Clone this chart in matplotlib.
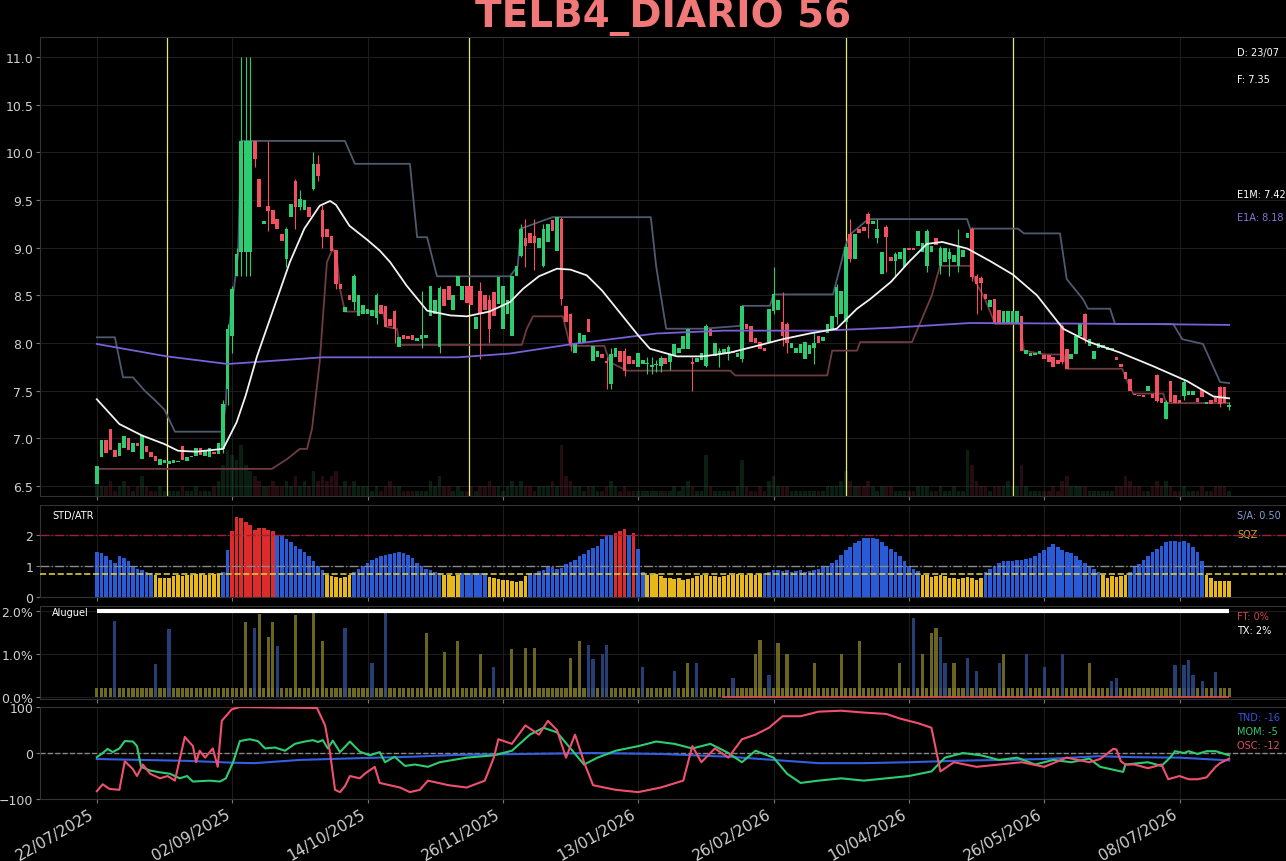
import numpy as np
import matplotlib
matplotlib.use('Agg')
import matplotlib.pyplot as plt
from matplotlib.ticker import FuncFormatter

# --- datas / eixo x (indice de pregao) ---
tick_idx = [0, 30, 60, 90, 120, 150, 180, 210, 240]
tick_datas = ['22/07/2025', '02/09/2025', '14/10/2025', '26/11/2025', '13/01/2026',
              '26/02/2026', '10/04/2026', '26/05/2026', '08/07/2026']

# --- candles ---
abertura = [
    6.52, 6.80, 6.98, 7.10, 6.88, 6.82, 6.90, 7.00, 6.86, 6.95,
    6.78, 6.92, 6.86, 6.82, 6.72, 6.74, 6.73, 6.74, 6.75, 6.92,
    6.76, 6.80, 6.82, 6.90, 6.82, 6.80, 6.86, 6.84, 6.89, 7.52,
    8.07, 8.70, 8.95, 8.95, 8.95, 10.12, 9.72, 9.25, 9.44, 9.40,
    9.30, 9.14, 8.88, 9.32, 9.70, 9.43, 9.40, 9.43, 9.62, 9.88,
    9.40, 9.20, 9.12, 8.98, 8.62, 8.33, 8.50, 8.43, 8.28, 8.30,
    8.30, 8.28, 8.26, 8.40, 8.39, 8.25, 8.34, 7.96, 8.08, 8.07,
    8.08, 8.02, 8.04, 8.05, 8.28, 8.30, 7.96, 8.57, 8.60, 8.35,
    8.60, 8.45, 8.60, 8.60, 8.15, 8.55, 8.50, 8.45, 8.53, 8.41,
    8.15, 8.30, 8.07, 8.70, 8.91, 9.10, 9.15, 9.12, 9.00, 8.81,
    9.06, 9.29, 8.97, 9.30, 8.39, 8.30, 7.90, 8.00, 8.00, 8.25,
    7.81, 7.85, 7.88, 7.81, 7.57, 7.85, 7.92, 7.92, 7.86, 7.82,
    7.75, 7.78, 7.78, 7.75, 7.77, 7.76, 7.84, 7.80, 7.86, 7.90,
    7.94, 7.94, 7.80, 7.80, 7.82, 7.76, 8.15, 7.86, 7.88, 7.88,
    7.88, 7.92, 7.85, 7.83, 8.20, 8.18, 8.05, 8.01, 7.95, 8.01,
    8.34, 8.35, 8.22, 8.20, 7.95, 7.90, 7.90, 7.83, 7.88, 7.95,
    8.07, 8.02, 8.10, 8.15, 8.27, 8.30, 8.22, 9.14, 8.88, 9.20,
    9.22, 9.35, 9.25, 9.10, 8.72, 9.22, 8.90, 8.86, 8.88, 8.80,
    9.00, 9.00, 9.02, 8.95, 8.81, 8.95, 9.10, 8.81, 8.85, 8.88,
    8.85, 8.81, 8.90, 9.10, 9.20, 8.70, 8.68, 8.51, 8.38, 8.46,
    8.35, 8.20, 8.20, 8.20, 8.20, 8.28, 7.88, 7.86, 7.87, 7.88,
    7.87, 7.87, 7.85, 7.82, 8.18, 7.94, 7.83, 7.88, 8.07, 8.30,
    7.97, 7.83, 7.95, 7.95, 7.93, 7.93, 7.85, 7.78, 7.70, 7.62,
    7.47, 7.46, 7.45, 7.50, 7.47, 7.66, 7.42, 7.20, 7.60, 7.45,
    7.40, 7.44, 7.46, 7.45, 7.42, 7.51, 7.36, 7.40, 7.43, 7.54,
    7.54, 7.33]
fechamento = [
    6.71, 6.98, 6.85, 6.88, 6.80, 6.95, 7.02, 6.88, 6.95, 6.92,
    7.03, 6.86, 6.80, 6.76, 6.78, 6.77, 6.76, 6.77, 6.76, 6.77,
    6.80, 6.82, 6.90, 6.83, 6.88, 6.90, 6.84, 6.95, 7.36, 8.15,
    8.57, 8.93, 10.12, 10.12, 10.12, 9.93, 9.43, 9.28, 9.38, 9.25,
    9.20, 9.07, 9.20, 9.46, 9.43, 9.51, 9.50, 9.32, 9.88, 9.75,
    9.11, 9.11, 8.97, 8.62, 8.57, 8.38, 8.45, 8.70, 8.50, 8.40,
    8.36, 8.35, 8.50, 8.30, 8.17, 8.18, 8.15, 8.06, 8.04, 8.04,
    8.03, 8.05, 8.08, 8.08, 8.60, 8.45, 8.58, 8.39, 8.45, 8.50,
    8.70, 8.60, 8.42, 8.40, 8.27, 8.30, 8.35, 8.15, 8.28, 8.69,
    8.60, 8.45, 8.70, 8.81, 9.20, 9.02, 9.05, 9.05, 9.10, 9.20,
    9.25, 9.18, 9.32, 8.46, 8.22, 7.99, 7.99, 8.10, 8.08, 8.12,
    7.97, 7.92, 7.84, 7.79, 7.89, 7.95, 7.80, 7.71, 7.78, 7.78,
    7.90, 7.82, 7.79, 7.76, 7.78, 7.84, 7.78, 7.88, 7.99, 7.95,
    8.07, 8.15, 7.78, 7.84, 7.90, 8.18, 8.07, 8.00, 7.92, 7.94,
    7.96, 7.90, 7.90, 8.39, 8.15, 8.01, 8.00, 7.94, 7.92, 8.36,
    8.51, 8.45, 8.07, 8.00, 8.00, 7.95, 7.99, 8.01, 7.98, 8.00,
    8.00, 8.06, 8.20, 8.28, 8.59, 8.55, 9.01, 8.88, 9.14, 9.15,
    9.18, 9.25, 9.28, 9.20, 8.95, 9.11, 8.86, 8.93, 8.95, 9.00,
    8.98, 8.98, 9.17, 9.05, 9.18, 9.02, 9.03, 9.00, 9.00, 8.95,
    8.92, 9.02, 8.98, 9.15, 8.69, 8.62, 8.63, 8.46, 8.45, 8.20,
    8.20, 8.34, 8.34, 8.34, 8.34, 7.92, 7.93, 7.90, 7.90, 7.92,
    7.83, 7.80, 7.75, 7.78, 7.80, 7.73, 7.88, 8.07, 8.20, 8.04,
    8.04, 7.92, 8.00, 7.98, 7.96, 7.95, 7.82, 7.75, 7.62, 7.50,
    7.45, 7.44, 7.43, 7.55, 7.42, 7.39, 7.37, 7.38, 7.38, 7.37,
    7.37, 7.59, 7.50, 7.50, 7.38, 7.43, 7.38, 7.36, 7.38, 7.36,
    7.37, 7.35]

# pavios visiveis (indice, maxima, minima)
pavio_idx = [28, 29, 30, 31, 32, 33, 34, 35, 38, 42, 44, 45, 48, 49, 50, 53, 57, 62, 66,
             72, 76, 85, 87, 94, 95, 97, 99, 103, 105, 113, 114, 117, 122, 123, 124, 125,
             127, 132, 135, 138, 140, 143, 150, 152, 153, 159, 164, 166, 167, 171, 173,
             175, 177, 184, 187, 189, 191, 194, 195, 196, 214, 219, 235, 237, 241, 249, 251]
pavio_max = [7.40, 8.20, 8.60, 9.00, 11.0, 11.0, 11.0, 10.12, 10.12, 9.22, 9.72, 9.60, 10.0, 9.97, 9.45, 8.98, 8.72, 8.52, 8.35,
             8.55, 8.60, 8.64, 8.50, 9.25, 9.30, 9.30, 9.25, 9.32, 8.32, 7.85, 7.95, 7.95, 7.85, 7.85, 7.82, 7.86,
             7.90, 7.85, 8.20, 7.95, 7.98, 8.40, 8.80, 8.53, 8.22, 8.10, 8.62, 9.05, 9.30, 9.37, 9.30,
             9.24, 8.95, 9.20, 9.02, 9.00, 9.20, 9.22, 8.72, 8.70, 8.20, 8.32, 7.68, 7.40, 7.62, 7.55, 7.38]
pavio_min = [6.85, 7.35, 7.90, 8.70, 8.70, 8.70, 8.70, 9.85, 9.17, 8.80, 9.20, 9.40, 9.60, 9.70, 9.00, 8.57, 8.35, 8.20, 8.00,
             7.95, 7.90, 7.83, 8.00, 8.90, 8.80, 8.77, 8.80, 8.40, 7.92, 7.52, 7.52, 7.65, 7.68, 7.68, 7.70, 7.70,
             7.72, 7.50, 7.75, 7.75, 7.82, 7.80, 8.30, 7.97, 7.90, 7.78, 8.20, 8.20, 8.85, 9.10, 9.05,
             8.75, 8.70, 8.75, 8.72, 8.70, 8.74, 8.65, 8.30, 8.35, 7.78, 8.00, 7.38, 7.20, 7.40, 7.33, 7.30]

volume = [
    3, 2, 2, 3, 1, 2, 3, 2, 1, 2, 4, 2, 1, 1, 2, 1, 1, 1, 1, 2,
    1, 1, 2, 1, 1, 1, 2, 3, 6, 9, 8, 7, 10, 6, 5, 4, 3, 2, 2, 3,
    2, 2, 3, 2, 4, 2, 3, 2, 5, 3, 4, 3, 4, 5, 2, 3, 2, 3, 2, 2,
    2, 1, 2, 1, 2, 3, 2, 2, 1, 1, 1, 1, 1, 1, 3, 2, 4, 2, 2, 1,
    2, 1, 1, 2, 1, 2, 2, 3, 2, 2, 1, 2, 3, 2, 3, 2, 2, 1, 2, 2,
    2, 3, 2, 10, 4, 3, 2, 2, 1, 2, 2, 1, 1, 2, 3, 2, 1, 2, 1, 1,
    1, 1, 1, 1, 1, 1, 1, 1, 2, 1, 2, 3, 2, 1, 1, 8, 2, 1, 1, 1,
    1, 1, 2, 7, 2, 1, 1, 2, 1, 3, 4, 2, 2, 2, 1, 1, 1, 1, 1, 1,
    1, 1, 2, 2, 2, 3, 5, 3, 2, 2, 2, 3, 2, 1, 2, 2, 2, 1, 1, 1,
    1, 1, 2, 2, 2, 1, 1, 2, 1, 1, 2, 1, 1, 9, 6, 3, 2, 2, 1, 2,
    2, 2, 3, 2, 2, 6, 2, 1, 1, 1, 1, 1, 2, 1, 3, 4, 2, 2, 2, 2,
    1, 1, 1, 1, 1, 1, 2, 2, 4, 3, 2, 2, 1, 1, 2, 3, 2, 3, 2, 1,
    1, 2, 1, 1, 1, 2, 1, 1, 2, 2, 2, 1]

# medias (E1M branca, E1A roxa) lidas ponto a ponto
e1m_idx = [0, 5, 10, 15, 18, 22, 28, 31, 33, 35.5, 38, 42.8, 46, 49.4, 51.7, 53, 56, 60, 62.7, 65,
           68.7, 73.2, 78.3, 82, 87, 91.6, 94.5, 98, 102, 105, 108.6, 112, 116.6, 120, 122.6, 128.6,
           134.4, 140.4, 146.3, 152, 158, 164, 168.5, 171.4, 176, 180, 184, 187.4, 193, 198, 203,
           208.4, 214.2, 220, 226.8, 234, 241.7, 247.5, 251]
e1m_val = [7.41, 7.15, 7.03, 6.94, 6.87, 6.86, 6.89, 7.17, 7.45, 7.86, 8.20, 8.85, 9.20, 9.44, 9.49, 9.45, 9.23, 9.08, 8.97, 8.85,
           8.60, 8.34, 8.29, 8.28, 8.33, 8.43, 8.57, 8.70, 8.78, 8.77, 8.71, 8.55, 8.28, 8.08, 7.94, 7.86,
           7.86, 7.90, 7.97, 8.04, 8.10, 8.15, 8.36, 8.46, 8.64, 8.85, 9.04, 9.06, 8.99, 8.86, 8.72,
           8.50, 8.15, 8.01, 7.90, 7.76, 7.60, 7.44, 7.42]
e1a_idx = [0, 15.5, 29, 50, 80, 91.6, 105.5, 124, 139, 161, 176, 193.6, 230.6, 251]
e1a_val = [7.99, 7.86, 7.78, 7.85, 7.85, 7.89, 7.99, 8.10, 8.13, 8.13, 8.16, 8.21, 8.20, 8.19]

# canal superior / inferior
sup_idx = [0, 4, 5.8, 8, 10.6, 12.9, 15, 17.3, 27.7, 28.6, 29.3, 30.4, 31.3, 32, 55, 57.2, 69.4, 71, 73.2,
           75.4, 91.6, 93.3, 94, 101, 122.8, 124, 126.2, 134.4, 142.6, 143.2, 149.2, 150, 163.2, 165.9,
           167, 171, 192.9, 193.6, 204.2, 205.5, 213.5, 215, 218.6, 219.7, 224.6, 225.7, 238.6, 240.6,
           245.2, 247, 249, 251]
sup_val = [8.06, 8.06, 7.64, 7.64, 7.50, 7.40, 7.30, 7.07, 7.07, 7.36, 8.15, 8.57, 8.93, 10.12, 10.12, 9.88, 9.88, 9.11, 9.11,
           8.70, 8.70, 8.81, 9.20, 9.32, 9.32, 8.80, 8.15, 8.15, 8.18, 8.39, 8.39, 8.51, 8.51, 9.01,
           9.14, 9.30, 9.30, 9.20, 9.20, 9.15, 9.15, 8.67, 8.46, 8.36, 8.36, 8.20, 8.20, 8.04,
           7.99, 7.80, 7.59, 7.58]
inf_idx = [0, 38.8, 42.1, 45, 46.6, 47.7, 49.4, 51, 52.3, 53.2, 53.9, 55, 63.4, 64.1, 66.5, 67.2, 94.2, 95.3,
           96.7, 103.3, 104.9, 112.5, 113.7, 117.5, 140.4, 141.5, 161.9, 163, 168.5, 169.2, 180.7, 185.1,
           186.9, 193.6, 194.7, 196.9, 199.1, 204.7, 205.5, 210.2, 214.3, 215, 227.3, 228.2, 229.7, 236.4,
           237, 251]
inf_val = [6.68, 6.68, 6.78, 6.89, 6.89, 7.10, 7.80, 8.85, 8.99, 8.90, 8.57, 8.33, 8.33, 8.17, 8.15, 7.98, 7.98, 8.15,
           8.28, 8.28, 7.97, 7.97, 7.80, 7.71, 7.71, 7.66, 7.66, 7.92, 7.92, 8.01, 8.01, 8.50,
           8.81, 8.81, 8.65, 8.46, 8.20, 8.20, 7.92, 7.88, 7.88, 7.73, 7.73, 7.62, 7.47, 7.47,
           7.37, 7.37]

marcas_verticais = [15.5, 82.5, 166, 203]

# --- STD/ATR ---
std_atr = [
    1.45, 1.4, 1.3, 1.2, 1.1, 1.3, 1.25, 1.15, 1.0, 0.9, 0.85, 0.8, 0.78,
    0.7, 0.62, 0.6, 0.62, 0.66, 0.7, 0.68, 0.72, 0.7, 0.74, 0.73, 0.72, 0.7, 0.74, 0.74,
    0.8, 1.5,
    2.1, 2.55, 2.52, 2.4, 2.3, 2.15, 2.22, 2.2, 2.15, 2.1,
    2.0, 1.98, 1.85, 1.75, 1.65, 1.55, 1.45, 1.3, 1.15, 1.0, 0.85,
    0.7, 0.68, 0.65, 0.6, 0.65, 0.7,
    0.8, 0.9, 1.0, 1.1, 1.2, 1.25, 1.3, 1.35, 1.38, 1.4, 1.45, 1.42, 1.35, 1.25, 1.1, 1.0, 0.9, 0.85, 0.8, 0.78,
    0.72, 0.7, 0.68, 0.7,
    0.76, 0.77, 0.78, 0.77, 0.76, 0.78,
    0.65, 0.6, 0.58, 0.55, 0.53, 0.5, 0.48, 0.52, 0.68,
    0.76, 0.78, 0.82, 0.88, 0.97, 0.95, 0.9, 0.92, 1.06, 1.12, 1.2, 1.3, 1.38, 1.5, 1.58, 1.65, 1.87,
    2.0, 2.0, 2.04, 2.1, 2.18, 2.0, 2.05, 1.53, 0.8,
    0.72, 0.7, 0.73, 0.68, 0.62, 0.6, 0.57, 0.6, 0.55, 0.58, 0.62, 0.66, 0.7, 0.69, 0.68, 0.66, 0.65,
    0.68, 0.7, 0.72, 0.73, 0.7, 0.72, 0.74, 0.7, 0.73,
    0.78, 0.8, 0.85, 0.88, 0.82, 0.85, 0.8, 0.82, 0.85, 0.8, 0.82, 0.85, 0.9, 0.95, 1.0, 1.1, 1.2, 1.35,
    1.5, 1.6, 1.72, 1.8, 1.88, 1.9, 1.88, 1.85, 1.75, 1.65, 1.55, 1.45, 1.3,
    1.15, 1.0, 0.9, 0.82,
    0.72, 0.7, 0.65, 0.68, 0.7, 0.66, 0.62, 0.6, 0.58, 0.62, 0.65, 0.6, 0.55, 0.62,
    0.8, 0.9, 1.0, 1.1, 1.15, 1.15, 1.15, 1.18, 1.2, 1.22, 1.25, 1.3, 1.4, 1.5, 1.6, 1.7, 1.6, 1.5,
    1.45, 1.4, 1.3, 1.2, 1.1, 1.0, 0.9, 0.8,
    0.72, 0.62, 0.68, 0.65, 0.66, 0.7,
    0.8, 0.95, 1.05, 1.2, 1.3, 1.45, 1.55, 1.65, 1.75, 1.8, 1.78, 1.75, 1.8, 1.72, 1.6, 1.45, 1.15,
    0.72, 0.6, 0.5, 0.5, 0.52, 0.5]
sqz_nivel = 0.75

# --- Aluguel (%) ---
aluguel_base = 0.2
alug_idx = [4, 13, 16, 33, 35, 36, 38, 39, 40, 44, 48, 50, 55, 61, 64, 73, 77, 80, 85, 88,
            92, 95, 97, 105, 107, 109, 110, 112, 113, 121, 128, 131, 133, 141, 146, 147, 149, 151,
            153, 159, 165, 169, 178, 181, 183, 185, 186, 187, 188, 190, 193, 195, 200, 201, 206,
            210, 214, 220, 225, 226, 239, 241, 242, 243, 245, 248]
alug_val = [1.77, 0.77, 1.58, 1.75, 1.6, 1.93, 1.4, 1.75, 1.19, 1.9, 1.95, 1.3, 1.6, 0.8, 1.98, 1.5, 1.05, 1.3, 1.0, 0.7,
            1.12, 1.15, 1.15, 0.9, 1.3, 1.2, 0.88, 1.0, 1.2, 0.7, 0.6, 0.8, 0.8, 0.45, 1.0, 1.33, 0.5, 1.25,
            1.0, 0.8, 1.0, 1.3, 0.8, 1.85, 1.0, 1.5, 1.6, 1.4, 0.8, 0.8, 0.9, 0.6, 0.8, 1.0, 1.0,
            0.7, 1.0, 0.8, 0.37, 0.45, 0.75, 0.75, 0.85, 0.5, 0.37, 0.57]
alug_cor = ['b', 'b', 'b', 'o', 'b', 'o', 'o', 'o', 'b', 'o', 'o', 'o', 'b', 'b', 'b', 'o', 'o', 'o', 'o', 'b',
            'o', 'o', 'o', 'o', 'o', 'b', 'b', 'b', 'b', 'b', 'b', 'o', 'b', 'b', 'o', 'o', 'b', 'o',
            'o', 'o', 'o', 'o', 'o', 'b', 'o', 'o', 'o', 'b', 'b', 'o', 'b', 'b', 'b', 'o', 'b',
            'b', 'b', 'o', 'b', 'b', 'b', 'b', 'b', 'b', 'b', 'b']
taxa_tx = 2.0
ft_inicio = 138.6

# --- osciladores ---
tnd_idx = [0, 20, 30, 35, 45, 55, 70, 80, 95, 110, 125, 140, 150, 160, 170, 180, 190, 200, 210, 222, 230, 240, 251]
tnd_val = [-13, -17, -21, -22, -15, -12, -8, -4, -2, 0, -2, -8, -15, -22, -22, -20, -17, -15, -13, -7, -9, -10, -16]
mom_idx = [0, 1.3, 2.4, 3.5, 5, 6.2, 8, 8.9, 9.8, 11.8, 14, 16.2, 18.4, 20, 21.3, 25, 27.3, 28.6, 30.2, 31.7,
           33.9, 35.7, 37.3, 39.5, 41.7, 43.9, 46.1, 47.9, 49, 50.1, 51.2, 52.3, 53.9, 56.1, 58.3, 60.5,
           62.7, 63.9, 66, 68.3, 70.5, 73.4, 76, 82, 88, 92, 96, 99, 102, 105, 108, 111, 115, 120, 124,
           128, 132, 136, 140, 143, 146, 150, 153, 156, 160, 165, 170, 175, 180, 185, 188, 192, 196,
           200, 204, 208, 212, 216, 220, 222.4, 227.5, 228, 233, 236, 238, 239, 241, 242, 244, 246,
           248, 250, 251]
mom_val = [-9, 0, 9, 2, 10, 26, 25, 15, -30, -38, -42, -45, -55, -50, -62, -60, -62, -55, -20, 26,
           30, 26, 10, 12, 5, 20, 25, 28, 24, 28, 10, 27, 2, 25, 3, -5,
           2, -20, -8, -28, -25, -30, -20, -10, -5, 5, 40, 55, 45, 10, -25, -10, 5, 15, 25,
           20, 10, 20, 0, -20, 5, -10, -45, -65, -60, -55, -60, -55, -50, -40, -10, 0, -5,
           -15, -10, -25, -15, -20, -12, -30, -41, -25, -20, -28, -9, 4, 0, 4, -2, 4,
           4, -2, -5]
osc_idx = [0, 1.3, 2.8, 5, 6.2, 8, 8.9, 10.2, 11.8, 14, 15.7, 17.3, 19.5, 21.3, 22, 22.8, 24, 25.7, 26.8,
           27.7, 29.9, 31.7, 48.8, 50.6, 51.7, 52.8, 53.9, 55, 56.1, 58.3, 59.4, 61.6, 62.7, 67.2, 69.4,
           71.6, 73.4, 78, 82, 86, 88, 89, 92, 95, 98, 100, 102, 104, 106, 108, 110, 115, 120, 125, 130,
           132, 134, 137, 140, 143, 146, 149, 152, 156, 160, 165, 170, 175, 178, 182, 185, 187, 190, 195,
           200, 205, 210, 215, 220, 222.4, 225.3, 226, 227, 228, 230, 233, 236, 237.5, 240, 242, 244,
           246, 248, 249, 251]
osc_val = [-83, -68, -78, -80, -18, -35, -50, -25, -45, -55, -50, -60, 35, 15, -20, 5, -10, 10, -30,
           70, 95, 100, 98, 60, 0, -80, -85, -72, -50, -55, -45, -30, -65, -75, -85,
           -80, -60, -70, -75, -60, -10, 30, 20, 60, 40, 70, 50, -10, 40, -20, -70, -80, -85, -75, -60,
           15, -20, 10, -10, 30, 40, 55, 80, 80, 90, 92, 88, 85, 75, 65, 55, -40, -20, -30,
           -25, -20, -30, -10, -20, -13, 9, 8, -18, -25, -25, -33, -25, -57, -50, -57, -57,
           -53, -30, -22, -12]

# ---------------- figura ----------------
VERDE = '#2ecc71'
VERMELHO = '#f0505f'
TXT = '#d0d0d0'

fig = plt.figure(figsize=(12.86, 8.62), dpi=100, facecolor='black')
L, W = 0.0311, 0.9689
ax1 = fig.add_axes([L, 0.4234, W, 0.5325])
ax2 = fig.add_axes([L, 0.3063, W, 0.1067], sharex=ax1)
ax3 = fig.add_axes([L, 0.1879, W, 0.1079], sharex=ax1)
ax4 = fig.add_axes([L, 0.0719, W, 0.1067], sharex=ax1)

for ax in (ax1, ax2, ax3, ax4):
    ax.set_facecolor('black')
    for s in ax.spines.values():
        s.set_color('#333333')
    ax.tick_params(colors='#777777', labelcolor=TXT, labelsize=9, length=3, pad=2)
    ax.grid(True, color='#1c1c1c', lw=0.8)
    ax.set_axisbelow(True)

n = len(fechamento)
x = np.arange(n)
o = np.array(abertura)
c = np.array(fechamento)
sobe = c >= o
cores = np.where(sobe, VERDE, VERMELHO)

# volume no fundo
y0, y1 = 6.395, 11.21
escala = (y1 - y0) / 90.0
cor_vol = np.where(sobe, '#1a5a34', '#6a2430')
vol = np.array(volume)
ax1.bar(np.arange(len(vol)), vol * escala, bottom=y0, width=0.8, color=cor_vol[:len(vol)], alpha=0.35, zorder=1)

for xv in marcas_verticais:
    ax1.axvline(xv, color='#e8e87a', lw=0.9, zorder=2)

ax1.plot(sup_idx, sup_val, color='#4f5a6e', lw=1.3, zorder=2)
ax1.plot(inf_idx, inf_val, color='#6e3c42', lw=1.3, zorder=2)
ax1.plot(e1a_idx, e1a_val, color='#7b5fd6', lw=1.3, zorder=4)

for i, h, l in zip(pavio_idx, pavio_max, pavio_min):
    ax1.vlines(i, l, h, color=cores[i], lw=0.8, zorder=3)
base = np.minimum(o, c)
alt = np.maximum(np.abs(c - o), 0.015)
ax1.bar(x, alt, bottom=base, width=0.8, color=cores, zorder=3)

ax1.plot(e1m_idx, e1m_val, color='#f2f2f2', lw=1.3, zorder=5)

ax1.set_ylim(y0, y1)
ax1.set_yticks([6.5, 7.0, 7.5, 8.0, 8.5, 9.0, 9.5, 10.0, 10.5, 11.0])
ax1.set_xlim(-12.6, 263.6)

kw = dict(transform=ax1.transAxes, fontsize=7, va='center', ha='left')
ax1.text(0.961, 0.967, 'D: 23/07', color='white', **kw)
ax1.text(0.961, 0.908, 'F: 7.35', color='white', **kw)
ax1.text(0.961, 0.658, 'E1M: 7.42', color='white', **kw)
ax1.text(0.961, 0.608, 'E1A: 8.18', color='#8a70d8', **kw)

# STD/ATR
sa = np.array(std_atr)
cor_sa = np.where(sa >= 2.02, '#dd2a2a', np.where(sa < sqz_nivel, '#e6b81c', '#2a5bd7'))
ax2.bar(np.arange(len(sa)), sa, width=0.8, color=cor_sa, zorder=3)
ax2.axhline(2.0, color='#a0203c', lw=1, ls='-.', zorder=4)
ax2.axhline(1.0, color='#8a8a8a', lw=1, ls='-.', zorder=4)
ax2.axhline(sqz_nivel, color='#d8cc3a', lw=1.2, ls='--', zorder=4)
ax2.set_ylim(0, 2.95)
ax2.set_yticks([0, 1, 2])
kw2 = dict(transform=ax2.transAxes, fontsize=7, va='center', ha='left')
ax2.text(0.0096, 0.89, 'STD/ATR', color='white', **kw2)
ax2.text(0.961, 0.89, 'S/A: 0.50', color='#7f9fd8', **kw2)
ax2.text(0.961, 0.685, 'SQZ', color='#d4a72c', **kw2)

# Aluguel
ax3.bar(x, np.full(n, aluguel_base), width=0.7, color='#6e6a22', zorder=3)
mapa = {'b': '#2c4a88', 'o': '#7d7624'}
ax3.bar(alug_idx, alug_val, width=0.7, color=[mapa[k] for k in alug_cor], alpha=0.85, zorder=3)
ax3.hlines(taxa_tx, 0, n - 1, color='white', lw=3, zorder=5)
ax3.hlines(0.0, ft_inicio, n - 1, color='#e0504a', lw=1.2, zorder=5)
ax3.set_ylim(-0.05, 2.12)
ax3.set_yticks([0.0, 1.0, 2.0])
ax3.yaxis.set_major_formatter(FuncFormatter(lambda v, p: f'{v:.1f}%'))
kw3 = dict(transform=ax3.transAxes, fontsize=7, va='center', ha='left')
ax3.text(0.0096, 0.935, 'Aluguel', color='white', **kw3)
ax3.text(0.961, 0.89, 'FT: 0%', color='#d04050', **kw3)
ax3.text(0.961, 0.74, 'TX: 2%', color='white', **kw3)

# osciladores
ax4.axhline(0, color='#888888', lw=1, ls='--', zorder=2)
ax4.plot(tnd_idx, tnd_val, color='#3460e0', lw=1.5, zorder=3)
ax4.plot(mom_idx, mom_val, color='#2ecc71', lw=1.5, zorder=4)
ax4.plot(osc_idx, osc_val, color='#f0506e', lw=1.5, zorder=5)
ax4.set_ylim(-100, 100)
ax4.set_yticks([-100, 0, 100])
kw4 = dict(transform=ax4.transAxes, fontsize=7, va='center', ha='left')
ax4.text(0.961, 0.89, 'TND: -16', color='#3355dd', **kw4)
ax4.text(0.961, 0.74, 'MOM: -5', color='#2ecc71', **kw4)
ax4.text(0.961, 0.59, 'OSC: -12', color='#e05060', **kw4)

ax1.set_xticks(tick_idx)
for ax in (ax1, ax2, ax3):
    plt.setp(ax.get_xticklabels(), visible=False)
ax4.set_xticklabels(tick_datas, rotation=30, ha='right', fontsize=11, color=TXT)

fig.text(0.5156, 0.980, 'TELB4_DIARIO 56', color='#f07878', fontsize=28,
         fontweight='bold', ha='center', va='center')

fig.savefig('out.png', dpi=100, facecolor='black')
